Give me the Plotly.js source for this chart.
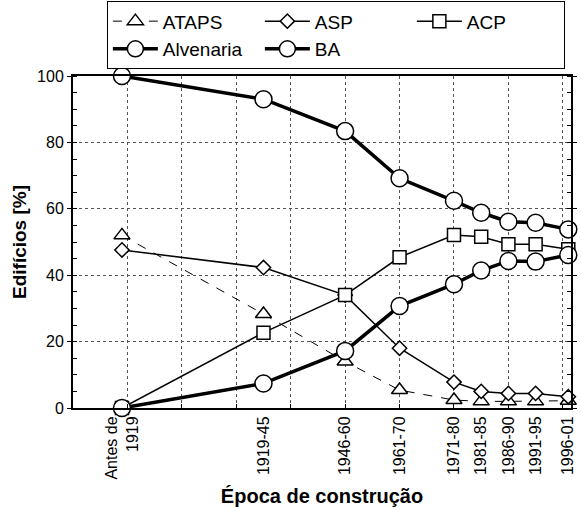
<!DOCTYPE html>
<html>
<head>
<meta charset="utf-8">
<script src="https://cdn.plot.ly/plotly-3.0.1.min.js"></script>
<style>html,body{margin:0;padding:0;background:#fff;}#chart{width:581px;height:513px;}</style>
</head>
<body>
<div id="chart"></div>
<script>
// Category positions (period end years) and labels
const periodPos = [1919, 1945, 1960, 1970, 1980, 1985, 1990, 1995, 2001];
const periodLabels = ["Antes de<br>1919", "1919-45", "1946-60", "1961-70", "1971-80", "1981-85", "1986-90", "1991-95", "1996-01"];

// Series values (% of buildings)
const ataps = [52, 28.3, 14, 5.4, 2.4, 2, 2, 2, 2.2];
const asp = [47.6, 42.3, 34, 18, 7.8, 5, 4.4, 4.4, 3.4];
const acp = [0, 22.7, 34, 45.4, 52.1, 51.6, 49.3, 49.3, 47.8];
const alvenaria = [100, 93, 83.4, 69.2, 62.4, 58.8, 56.1, 55.8, 53.8];
const ba = [0, 7.4, 17.2, 30.7, 37.3, 41.4, 44.3, 44.1, 46.1];

const seriesNames = ["ATAPS", "ASP", "ACP", "Alvenaria", "BA"];

const FONT = "Liberation Sans, Arial, sans-serif";

function tr(name, y, symbol, msize, lw, dash) {
  return {
    type: "scatter", mode: "lines+markers", name: name,
    x: periodPos, y: y, xaxis: "x", yaxis: "y",
    cliponaxis: false,
    line: {color: "#000", width: lw, dash: dash},
    marker: {symbol: symbol, size: msize, color: "#fff", line: {color: "#000", width: 1.5}},
    hoverinfo: "x+y"
  };
}

const data = [
  // grid carrier (invisible) for the decade grid axis
  {type: "scatter", mode: "markers", x: [null], y: [null], xaxis: "x2", yaxis: "y", showlegend: false, hoverinfo: "skip"},
  tr(seriesNames[0], ataps, "triangle-up", 14, 1, "dash"),
  tr(seriesNames[1], asp, "diamond", 11, 1.5, "solid"),
  tr(seriesNames[2], acp, "square", 13, 1.5, "solid"),
  tr(seriesNames[3], alvenaria, "circle", 17, 3.5, "solid"),
  tr(seriesNames[4], ba, "circle", 17, 3.5, "solid")
];

const layout = {
  width: 581, height: 513,
  margin: {l: 73, r: 10, t: 76, b: 105, autoexpand: false},
  paper_bgcolor: "#fff", plot_bgcolor: "#fff",
  font: {family: FONT, color: "#000", size: 16},
  showlegend: true,
  legend: {
    orientation: "h", x: 0.068, xanchor: "left", y: 1.225, yanchor: "top",
    bgcolor: "#fff", bordercolor: "#000", borderwidth: 1,
    font: {family: FONT, size: 19, color: "#000"},
    itemwidth: 45, entrywidth: 92, entrywidthmode: "pixels",
    traceorder: "normal", tracegroupgap: 0
  },
  xaxis: {
    range: [1910, 2001.5], type: "linear",
    tickmode: "array", tickvals: periodPos, ticktext: periodLabels,
    tickangle: -90, ticks: "", showgrid: false, zeroline: false,
    showline: true, linecolor: "#000", linewidth: 2, mirror: true,
    tickfont: {family: FONT, size: 16, color: "#000"},
    title: {text: "<b>Época de construção</b>", font: {family: FONT, size: 20, color: "#000"}, standoff: 10}
  },
  xaxis2: {
    range: [1910, 2001.5], type: "linear", overlaying: "x", anchor: "y",
    tickmode: "linear", tick0: 1910, dtick: 10,
    showticklabels: false, ticks: "inside", ticklen: 4, tickcolor: "#000",
    showgrid: true, gridcolor: "#555", griddash: "dot", gridwidth: 1,
    zeroline: false, showline: false
  },
  yaxis: {
    range: [0, 100], tickmode: "linear", tick0: 0, dtick: 20,
    ticks: "outside", ticklen: 4, tickcolor: "#000",
    minor: {dtick: 5, ticks: "inside", ticklen: 4, tickcolor: "#000", showgrid: false},
    showgrid: true, gridcolor: "#555", griddash: "dot", gridwidth: 1,
    zeroline: false, showline: true, linecolor: "#000", linewidth: 2, mirror: "allticks",
    tickfont: {family: FONT, size: 16, color: "#000"},
    title: {text: "<b>Edifícios [%]</b>", font: {family: FONT, size: 19, color: "#000"}, standoff: 5}
  }
};

Plotly.newPlot("chart", data, layout, {displayModeBar: false, staticPlot: true});
</script>
</body>
</html>
